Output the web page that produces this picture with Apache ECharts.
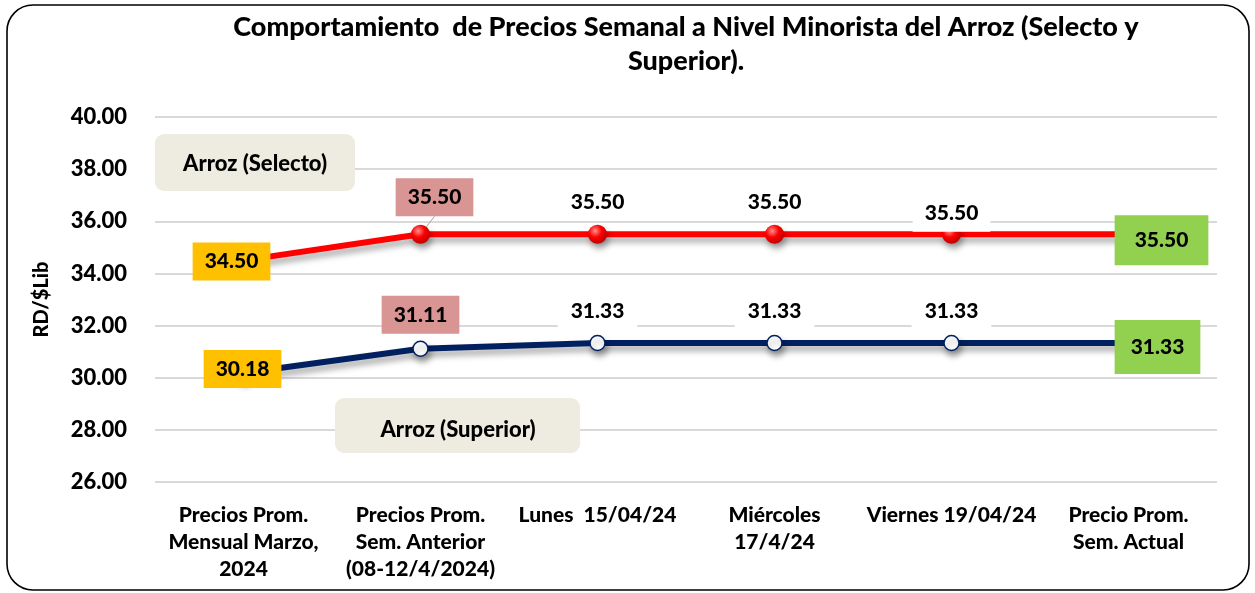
<!DOCTYPE html>
<html>
<head>
<meta charset="utf-8">
<script src="https://cdn.jsdelivr.net/npm/echarts@6/dist/echarts.min.js"></script>
<style>
html,body{margin:0;padding:0;background:#fff;}
#chart{width:1255px;height:593px;}
</style>
</head>
<body>
<div id="chart"></div>
<script>
const titleText = 'Comportamiento  de Precios Semanal a Nivel Minorista del Arroz (Selecto y\nSuperior).';
const categories = [
  'Precios Prom.\nMensual Marzo,\n2024',
  'Precios Prom.\nSem. Anterior\n(08-12/4/2024)',
  'Lunes  15/04/24',
  'Miércoles\n17/4/24',
  'Viernes 19/04/24',
  'Precio Prom.\nSem. Actual'
];
const selecto = [34.50, 35.50, 35.50, 35.50, 35.50, 35.50];
const superior = [30.18, 31.11, 31.33, 31.33, 31.33, 31.33];
const yMin = 26, yMax = 40, yStep = 2;
const yName = 'RD/$Lib';
const noteSelecto = 'Arroz (Selecto)';
const noteSuperior = 'Arroz (Superior)';

const FONT = 'Lato, "Open Sans", sans-serif';
const lblFont = {fontFamily: FONT, fontWeight: 900, fontSize: 21, color: '#000', lineHeight: 22};

function box(bg, pad) {
  return Object.assign({show: true, position: 'inside', backgroundColor: bg, padding: pad,
    formatter: p => Number(p.value).toFixed(2)}, lblFont);
}

const selectoLabels = [
  box('#FFC000', [8, 12]),
  box('#D99594', [8, 12]),
  box('transparent', [4, 12]),
  box('transparent', [4, 12]),
  box('#FFFFFF', [6, 12, 9, 12]),
  box('#92D050', [14, 20])
];
const selectoShift = [[-12, 1], [14, -37], [0, -32], [0, -32], [0, -21], [33, 6]];
const superiorLabels = [
  box('#FFC000', [8, 12]),
  box('#D99594', [8, 12]),
  box('#FFFFFF', [4, 13, 7, 13]),
  box('#FFFFFF', [4, 13, 7, 13]),
  box('#FFFFFF', [4, 13, 7, 13]),
  box('#92D050', [16, 16])
];
const superiorShift = [[-1, -4], [0, -34], [0, -32], [0, -32], [0, -32], [29, 4]];

const chart = echarts.init(document.getElementById('chart'), null, {renderer: 'canvas'});
const shadow = {shadowColor: 'rgba(0,0,0,0.35)', shadowBlur: 6, shadowOffsetX: 2, shadowOffsetY: 5};

chart.setOption({
  animation: false,
  backgroundColor: '#fff',
  grid: {left: 155, right: 38, top: 117, bottom: 111, containLabel: false},
  xAxis: {
    type: 'category',
    data: categories,
    boundaryGap: true,
    axisLine: {show: false},
    axisTick: {show: false},
    splitLine: {show: false},
    axisLabel: {interval: 0, margin: 20, fontFamily: FONT, fontWeight: 900, fontSize: 21, color: '#000', lineHeight: 27}
  },
  yAxis: {
    type: 'value',
    min: yMin, max: yMax, interval: yStep,
    name: yName,
    nameLocation: 'middle',
    nameRotate: 90,
    nameGap: 103,
    nameTextStyle: {fontFamily: FONT, fontWeight: 900, fontSize: 20, color: '#000'},
    axisLine: {show: false},
    axisTick: {show: false},
    splitLine: {lineStyle: {color: '#d9d9d9', width: 2}},
    axisLabel: {margin: 28, fontFamily: FONT, fontWeight: 900, fontSize: 22, color: '#000', formatter: v => v.toFixed(2)}
  },
  series: [
    {
      name: 'Arroz (Selecto)',
      type: 'line',
      data: selecto.map((v, i) => {
        const d = {value: v, label: selectoLabels[i]};
        if (i === 1) d.labelLine = {show: true, lineStyle: {color: '#a6a6a6', width: 1}};
        return d;
      }),
      symbol: 'circle',
      symbolSize: 19,
      lineStyle: Object.assign({color: '#FF0000', width: 6}, shadow),
      itemStyle: Object.assign({
        color: {type: 'radial', x: 0.38, y: 0.32, r: 0.75, colorStops: [
          {offset: 0, color: '#ff9090'}, {offset: 0.45, color: '#ff0000'}, {offset: 1, color: '#b00000'}]}
      }, shadow),
      labelLayout: function (p) {
        const s = selectoShift[p.dataIndex];
        return {dx: s[0], dy: s[1]};
      },
      z: 3
    },
    {
      name: 'Arroz (Superior)',
      type: 'line',
      data: superior.map((v, i) => ({value: v, label: superiorLabels[i]})),
      symbol: 'circle',
      symbolSize: 15,
      lineStyle: Object.assign({color: '#002060', width: 6}, shadow),
      itemStyle: Object.assign({color: '#ffffff', borderColor: '#002060', borderWidth: 1.5}, shadow),
      labelLayout: function (p) {
        const s = superiorShift[p.dataIndex];
        return {dx: s[0], dy: s[1]};
      },
      z: 2
    }
  ],
  graphic: [
    {type: 'rect', shape: {x: 7, y: 5, width: 1242, height: 585, r: 26}, style: {fill: 'none', stroke: '#000', lineWidth: 1.6}, z: 100},
    {type: 'text', x: 686, y: 10, style: {text: titleText, align: 'center', textAlign: 'center', fontFamily: FONT, fontWeight: 900, fontSize: 27, lineHeight: 34, fill: '#000'}, z: 100},
    {type: 'rect', shape: {x: 155, y: 134, width: 200, height: 57, r: 9}, style: {fill: '#EEECE1'}, z: 50},
    {type: 'text', x: 255, y: 164, style: {text: noteSelecto, align: 'center', verticalAlign: 'middle', textAlign: 'center', textVerticalAlign: 'middle', fontFamily: FONT, fontWeight: 900, fontSize: 22, fill: '#000'}, z: 51},
    {type: 'rect', shape: {x: 335, y: 398, width: 245, height: 55, r: 9}, style: {fill: '#EEECE1'}, z: 50},
    {type: 'text', x: 458, y: 430, style: {text: noteSuperior, align: 'center', verticalAlign: 'middle', textAlign: 'center', textVerticalAlign: 'middle', fontFamily: FONT, fontWeight: 900, fontSize: 22, fill: '#000'}, z: 51}
  ]
});
</script>
</body>
</html>
